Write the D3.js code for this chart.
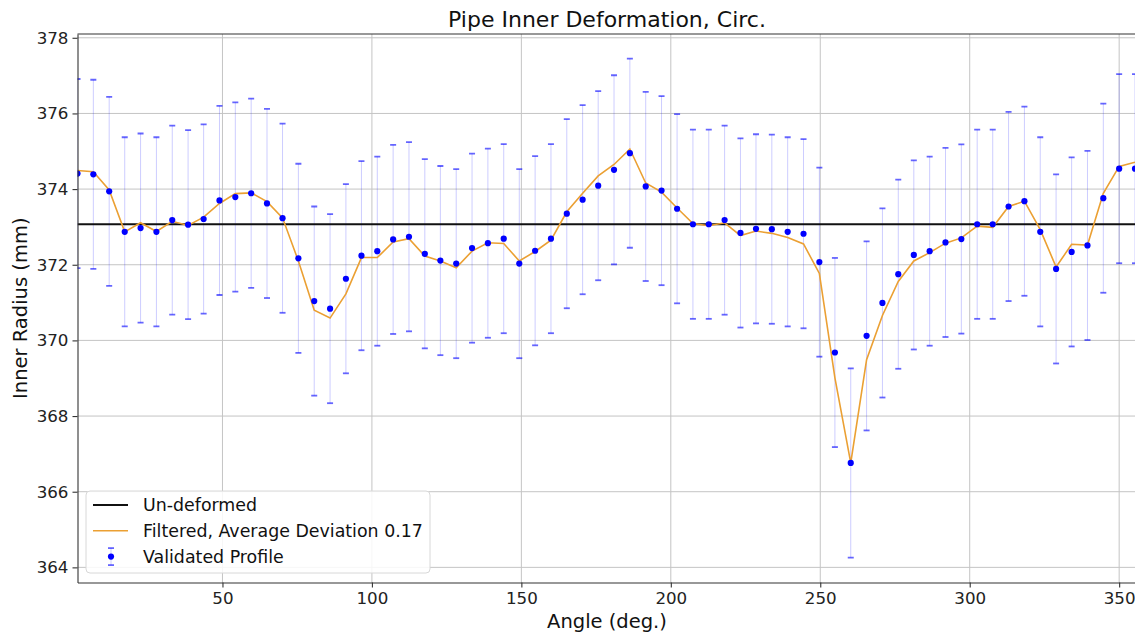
<!DOCTYPE html>
<html>
<head>
<meta charset="utf-8">
<script src="https://cdn.jsdelivr.net/npm/d3@7"></script>
<style>
  body { margin: 0; background: #fff; }
  svg { display: block; font-family: 'DejaVu Sans', sans-serif; }
  .axis path { stroke: #333; stroke-width: 1.1; }
  .axis line { stroke: #333; stroke-width: 1.1; }
  .axis text { fill: #222; font-size: 16.7px; font-family: 'DejaVu Sans', sans-serif; }
  .grid line { stroke: #c4c4c4; stroke-width: 1; }
</style>
</head>
<body>
<div id="chart"></div>
<script>
const angles = [
  1.5, 6.8, 12.1, 17.3, 22.6, 27.9, 33.2, 38.5, 43.7, 49.0,
  54.3, 59.6, 64.9, 70.1, 75.4, 80.7, 86.0, 91.3, 96.5, 101.8,
  107.1, 112.4, 117.7, 122.9, 128.2, 133.5, 138.8, 144.1, 149.3, 154.6,
  159.9, 165.2, 170.5, 175.7, 181.0, 186.3, 191.6, 196.9, 202.1, 207.4,
  212.7, 218.0, 223.3, 228.5, 233.8, 239.1, 244.4, 249.7, 254.9, 260.2,
  265.5, 270.8, 276.1, 281.3, 286.6, 291.9, 297.2, 302.5, 307.7, 313.0,
  318.3, 323.6, 328.9, 334.1, 339.4, 344.7, 350.0, 355.3,
];
const validated = [
  374.41, 374.39, 373.94, 372.87, 372.97, 372.87, 373.18, 373.06, 373.21, 373.70,
  373.79, 373.89, 373.62, 373.23, 372.17, 371.04, 370.84, 371.63, 372.24, 372.36,
  372.67, 372.74, 372.29, 372.11, 372.03, 372.44, 372.57, 372.69, 372.03, 372.37,
  372.69, 373.35, 373.72, 374.09, 374.51, 374.95, 374.07, 373.96, 373.48, 373.07,
  373.07, 373.18, 372.84, 372.95, 372.94, 372.87, 372.82, 372.07, 369.68, 366.76,
  370.12, 370.99, 371.75, 372.26, 372.36, 372.59, 372.68, 373.07, 373.07, 373.54,
  373.68, 372.87, 371.89, 372.34, 372.51, 373.76, 374.54, 374.54,
];
const filtered = [
  374.49, 374.46, 373.98, 372.87, 373.11, 372.88, 373.15, 373.04, 373.26, 373.62,
  373.88, 373.90, 373.67, 373.24, 372.10, 370.80, 370.59, 371.23, 372.19, 372.19,
  372.60, 372.69, 372.23, 372.10, 371.92, 372.36, 372.58, 372.56, 372.10, 372.35,
  372.65, 373.40, 373.89, 374.35, 374.65, 375.06, 374.16, 373.92, 373.50, 373.09,
  373.03, 373.11, 372.77, 372.89, 372.83, 372.72, 372.55, 371.77, 369.01, 366.76,
  369.49, 370.66, 371.56, 372.10, 372.32, 372.57, 372.71, 373.02, 372.99, 373.54,
  373.68, 372.93, 371.94, 372.54, 372.52, 373.89, 374.60, 374.71,
];
const errorHalf = 2.5;
const undeformed = 373.07;
const xTicks = [50, 100, 150, 200, 250, 300, 350];
const yTicks = [364, 366, 368, 370, 372, 374, 376, 378];
const legendLabels = ['Un-deformed', 'Filtered, Average Deviation 0.17', 'Validated Profile'];

const canvasWidth = 1135;
const canvasHeight = 636;
const margins = { top: 34, right: 0, bottom: 53.5, left: 77.5 };
const width = canvasWidth - margins.left - margins.right;
const height = canvasHeight - margins.top - margins.bottom;

const data = angles.map((a, i) => ({ angle: a, r: validated[i], f: filtered[i] }));

const svg = d3.select('#chart')
  .append('svg')
    .attr('width', canvasWidth)
    .attr('height', canvasHeight);

const plot = svg.append('g')
  .attr('transform', `translate(${margins.left}, ${margins.top})`);

const scaleX = d3.scaleLinear()
  .domain([d3.min(angles), d3.max(angles)])
  .range([0, width]);
const scaleY = d3.scaleLinear()
  .domain([363.6, 378.1])
  .range([height, 0]);

svg.append('defs').append('clipPath')
  .attr('id', 'clip')
  .append('rect')
    .attr('width', width)
    .attr('height', height);

// grid
plot.append('g')
  .attr('class', 'grid')
  .selectAll('line.v')
  .data(xTicks)
  .enter()
  .append('line')
    .attr('x1', d => scaleX(d))
    .attr('x2', d => scaleX(d))
    .attr('y1', 0)
    .attr('y2', height);
plot.append('g')
  .attr('class', 'grid')
  .selectAll('line.h')
  .data(yTicks)
  .enter()
  .append('line')
    .attr('x1', 0)
    .attr('x2', width)
    .attr('y1', d => scaleY(d))
    .attr('y2', d => scaleY(d));

const marks = plot.append('g').attr('clip-path', 'url(#clip)');

// error bars
const bars = marks.append('g')
  .selectAll('g')
  .data(data)
  .enter()
  .append('g');
bars.append('line')
  .attr('x1', d => scaleX(d.angle))
  .attr('x2', d => scaleX(d.angle))
  .attr('y1', d => scaleY(d.r - errorHalf))
  .attr('y2', d => scaleY(d.r + errorHalf))
  .attr('stroke', 'rgba(0,0,255,0.2)')
  .attr('stroke-width', 1);
[-1, 1].forEach(s => {
  bars.append('line')
    .attr('x1', d => scaleX(d.angle) - 3)
    .attr('x2', d => scaleX(d.angle) + 3)
    .attr('y1', d => scaleY(d.r + s * errorHalf))
    .attr('y2', d => scaleY(d.r + s * errorHalf))
    .attr('stroke', 'rgba(0,0,255,0.6)')
    .attr('stroke-width', 1.8);
});

// un-deformed
marks.append('line')
  .attr('x1', 0)
  .attr('x2', width)
  .attr('y1', scaleY(undeformed))
  .attr('y2', scaleY(undeformed))
  .attr('stroke', '#111')
  .attr('stroke-width', 2);

// filtered
marks.append('path')
  .datum(data)
  .attr('fill', 'none')
  .attr('stroke', '#eba033')
  .attr('stroke-width', 1.6)
  .attr('d', d3.line().x(d => scaleX(d.angle)).y(d => scaleY(d.f)));

// validated points
marks.append('g')
  .selectAll('circle')
  .data(data)
  .enter()
  .append('circle')
    .attr('cx', d => scaleX(d.angle))
    .attr('cy', d => scaleY(d.r))
    .attr('r', 3.1)
    .attr('fill', '#0000ff');

// axes
plot.append('g')
  .attr('class', 'axis')
  .attr('transform', `translate(0, ${height})`)
  .call(d3.axisBottom(scaleX).tickValues(xTicks).tickSizeInner(5).tickSizeOuter(0).tickPadding(5).tickFormat(d3.format('d')));
plot.append('g')
  .attr('class', 'axis')
  .call(d3.axisLeft(scaleY).tickValues(yTicks).tickSizeInner(5).tickSizeOuter(0).tickPadding(4).tickFormat(d3.format('d')));
plot.append('line')
  .attr('x1', 0).attr('x2', width + 2)
  .attr('y1', 0).attr('y2', 0)
  .attr('stroke', '#333')
  .attr('stroke-width', 1.1);

// labels
svg.append('text')
  .attr('x', 607)
  .attr('y', 27)
  .attr('text-anchor', 'middle')
  .style('font-size', '22px')
  .attr('fill', '#111')
  .text('Pipe Inner Deformation, Circ.');
svg.append('text')
  .attr('x', 607)
  .attr('y', 628)
  .attr('text-anchor', 'middle')
  .style('font-size', '19.5px')
  .attr('fill', '#111')
  .text('Angle (deg.)');
svg.append('text')
  .attr('transform', `translate(27, ${margins.top + height / 2}) rotate(-90)`)
  .attr('text-anchor', 'middle')
  .style('font-size', '19.5px')
  .attr('fill', '#111')
  .text('Inner Radius (mm)');

// legend
const legend = svg.append('g').attr('transform', 'translate(86, 491)');
legend.append('rect')
  .attr('width', 344)
  .attr('height', 82)
  .attr('rx', 4)
  .attr('fill', 'rgba(255,255,255,0.85)')
  .attr('stroke', '#d8d8d8');
const rowY = i => 14 + i * 25.8;
legend.append('line')
  .attr('x1', 7).attr('x2', 42)
  .attr('y1', rowY(0)).attr('y2', rowY(0))
  .attr('stroke', '#111').attr('stroke-width', 2);
legend.append('line')
  .attr('x1', 7).attr('x2', 42)
  .attr('y1', rowY(1)).attr('y2', rowY(1))
  .attr('stroke', '#eba033').attr('stroke-width', 1.6);
legend.append('line')
  .attr('x1', 25).attr('x2', 25)
  .attr('y1', rowY(2) - 8.5).attr('y2', rowY(2) + 8.5)
  .attr('stroke', 'rgba(0,0,255,0.2)');
[-8.5, 8.5].forEach(o => {
  legend.append('line')
    .attr('x1', 22).attr('x2', 28)
    .attr('y1', rowY(2) + o).attr('y2', rowY(2) + o)
    .attr('stroke', 'rgba(0,0,255,0.6)').attr('stroke-width', 1.8);
});
legend.append('circle')
  .attr('cx', 25).attr('cy', rowY(2)).attr('r', 3.1)
  .attr('fill', '#0000ff');
legend.selectAll('text.item')
  .data(legendLabels)
  .enter()
  .append('text')
    .attr('x', 57)
    .attr('y', (d, i) => rowY(i) + 6)
    .style('font-size', '17.4px')
    .attr('fill', '#111')
    .text(d => d);
</script>
</body>
</html>
